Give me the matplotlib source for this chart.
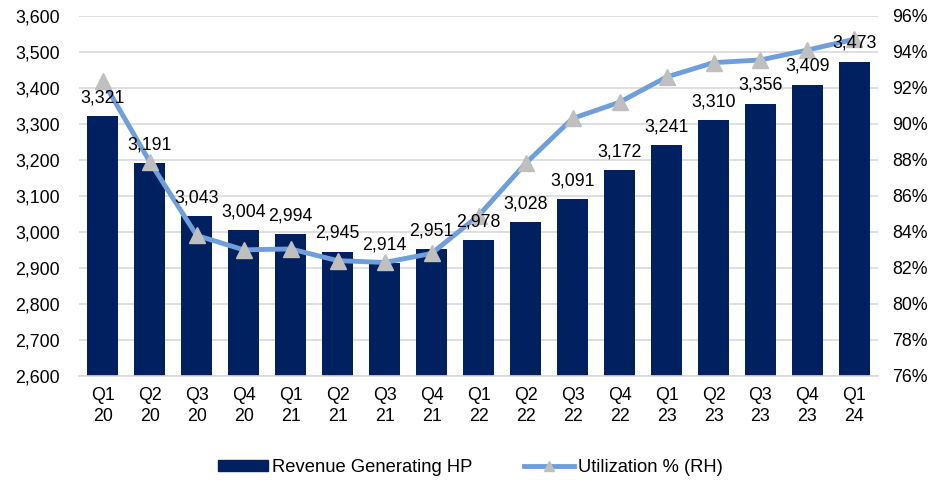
import matplotlib
matplotlib.use('Agg')
import matplotlib.pyplot as plt
from matplotlib.ticker import FuncFormatter
from matplotlib.lines import Line2D
import numpy as np

plt.rcParams['font.family'] = ['Liberation Sans', 'DejaVu Sans']

quarters = ['Q1\n20', 'Q2\n20', 'Q3\n20', 'Q4\n20', 'Q1\n21', 'Q2\n21', 'Q3\n21', 'Q4\n21',
            'Q1\n22', 'Q2\n22', 'Q3\n22', 'Q4\n22', 'Q1\n23', 'Q2\n23', 'Q3\n23', 'Q4\n23', 'Q1\n24']
revenue_hp = [3321, 3191, 3043, 3004, 2994, 2945, 2914, 2951,
              2978, 3028, 3091, 3172, 3241, 3310, 3356, 3409, 3473]
utilization = [92.4, 87.9, 83.8, 83.0, 83.05, 82.4, 82.3, 82.8,
               84.9, 87.8, 90.3, 91.2, 92.6, 93.4, 93.55, 94.1, 94.7]

navy = '#002060'
light_blue = '#6F9FDB'
marker_gray = '#BFBFBF'
grid_gray = '#D9D9D9'
fs = 12.8

fig = plt.figure(figsize=(9.32, 4.8), dpi=100)
ax = fig.add_axes([0.085, 0.217, 0.857, 0.75])
ax2 = ax.twinx()

x = np.arange(len(quarters))
bars = ax.bar(x, revenue_hp, 0.66, color=navy, zorder=2)
ax.set_ylim(2600, 3600)
ax.set_yticks(np.arange(2600, 3601, 100))
ax.yaxis.set_major_formatter(FuncFormatter(lambda v, p: f'{int(v):,}'))
ax.set_xlim(-0.5, len(quarters) - 0.5)
ax.set_xticks(x)
ax.set_xticklabels(quarters, linespacing=1.3)
ax.grid(True, axis='y', color=grid_gray, linewidth=1.2, zorder=0)
ax.set_axisbelow(True)

ax2.plot(x, utilization, color=light_blue, linewidth=3.5, marker='^',
         markersize=11, markerfacecolor=marker_gray, markeredgecolor=marker_gray, zorder=3)
ax2.set_ylim(76, 96)
ax2.set_yticks(np.arange(76, 97, 2))
ax2.yaxis.set_major_formatter(FuncFormatter(lambda v, p: f'{int(v)}%'))

for a in (ax, ax2):
    for s in a.spines.values():
        s.set_visible(False)
    a.tick_params(length=0, labelsize=fs, colors='black')
ax.spines['bottom'].set_visible(True)
ax.spines['bottom'].set_color(grid_gray)
ax.spines['bottom'].set_linewidth(1.2)
ax.tick_params(axis='x', pad=8)
ax.tick_params(axis='y', pad=14)
ax2.tick_params(axis='y', pad=10)

# etiquetas de valor sobre las barras (encima de la línea)
for xi, v in zip(x, revenue_hp):
    ax2.annotate(f'{v:,}', (xi, v), xycoords=ax.transData, xytext=(0, 7),
                 textcoords='offset points', ha='center', va='bottom',
                 fontsize=fs, zorder=5)

handles = [plt.Rectangle((0, 0), 1, 1, color=navy),
           Line2D([0], [0], color=light_blue, linewidth=3.5, marker='^', markersize=7,
                  markerfacecolor=marker_gray, markeredgecolor=marker_gray)]
ax.legend(handles, ['Revenue Generating HP', 'Utilization % (RH)'],
          loc='upper center', bbox_to_anchor=(0.49, -0.185), ncol=2, frameon=False,
          fontsize=fs + 0.4, handlelength=2.7, handleheight=0.5, columnspacing=2.8,
          handletextpad=0.25)

fig.savefig('out.png', dpi=100)
